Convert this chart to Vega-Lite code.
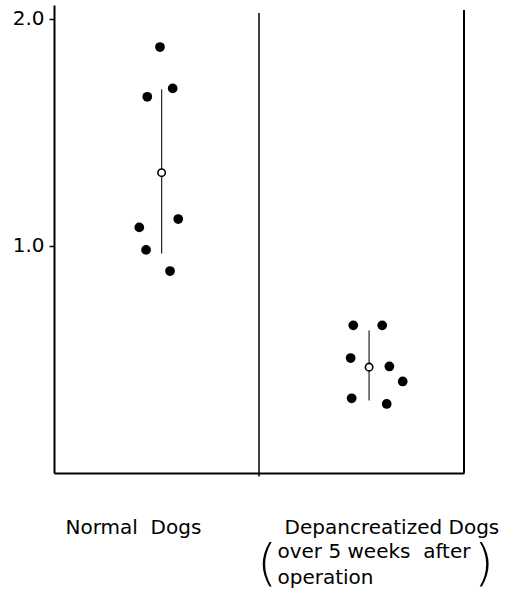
{
  "$schema": "https://vega.github.io/schema/vega-lite/v6.json",
  "width": 410,
  "height": 468,
  "autosize": "none",
  "padding": {"left": 54, "top": 5, "right": 53, "bottom": 121},
  "background": "white",
  "config": {
    "view": {"stroke": null},
    "font": "DejaVu Sans",
    "axis": {"grid": false, "domainColor": "black", "domainWidth": 2, "labelColor": "black", "labelFont": "DejaVu Sans", "labelFontSize": 20, "labelLimit": 400}
  },
  "datasets": {
    "dogs": [
      {"group": "Normal", "pos": 0.517, "value": 1.875},
      {"group": "Normal", "pos": 0.455, "value": 1.656},
      {"group": "Normal", "pos": 0.579, "value": 1.693},
      {"group": "Normal", "pos": 0.606, "value": 1.118},
      {"group": "Normal", "pos": 0.416, "value": 1.081},
      {"group": "Normal", "pos": 0.449, "value": 0.982},
      {"group": "Normal", "pos": 0.566, "value": 0.889},
      {"group": "Depancreatized", "pos": 1.46, "value": 0.65},
      {"group": "Depancreatized", "pos": 1.601, "value": 0.65},
      {"group": "Depancreatized", "pos": 1.447, "value": 0.506},
      {"group": "Depancreatized", "pos": 1.636, "value": 0.469},
      {"group": "Depancreatized", "pos": 1.701, "value": 0.403},
      {"group": "Depancreatized", "pos": 1.452, "value": 0.329},
      {"group": "Depancreatized", "pos": 1.623, "value": 0.304}
    ],
    "summary": [
      {"group": "Normal", "pos": 0.525, "mean": 1.322, "lo": 0.966, "hi": 1.689},
      {"group": "Depancreatized", "pos": 1.537, "mean": 0.466, "lo": 0.319, "hi": 0.627}
    ]
  },
  "layer": [
    {
      "data": {"name": "dogs"},
      "mark": {"type": "point", "shape": "circle", "filled": true, "color": "black", "size": 95, "opacity": 1},
      "encoding": {
        "x": {
          "field": "pos", "type": "quantitative",
          "scale": {"domain": [0, 2], "nice": false, "zero": false},
          "axis": {
            "title": null, "ticks": false, "values": [0.385, 1.646],
            "labelExpr": "datum.value < 1 ? 'Normal\u00a0 Dogs' : 'Depancreatized Dogs'",
            "labelPadding": 44, "labelAlign": "center"
          }
        },
        "y": {
          "field": "value", "type": "quantitative",
          "scale": {"domain": [0, 2.06], "nice": false},
          "axis": {"title": null, "values": [1, 2], "format": ".1f", "tickSize": 5, "tickColor": "black", "tickWidth": 1.5, "labelPadding": 5}
        }
      }
    },
    {
      "data": {"name": "summary"},
      "mark": {"type": "rule", "color": "#333", "strokeWidth": 1.3},
      "encoding": {
        "x": {"field": "pos", "type": "quantitative"},
        "y": {"field": "lo", "type": "quantitative"},
        "y2": {"field": "hi"}
      }
    },
    {
      "data": {"name": "summary"},
      "mark": {"type": "point", "shape": "circle", "filled": true, "fill": "white", "stroke": "black", "strokeWidth": 1.6, "size": 55, "opacity": 1},
      "encoding": {
        "x": {"field": "pos", "type": "quantitative"},
        "y": {"field": "mean", "type": "quantitative"}
      }
    },
    {
      "data": {"values": [{}]},
      "mark": {"type": "rule", "color": "black", "strokeWidth": 1.5, "clip": false},
      "encoding": {
        "x": {"datum": 1},
        "y": {"datum": -0.015},
        "y2": {"datum": 2.025}
      }
    },
    {
      "data": {"values": [{}]},
      "mark": {"type": "rule", "color": "black", "strokeWidth": 2, "clip": false},
      "encoding": {
        "x": {"datum": 2},
        "y": {"datum": 0},
        "y2": {"datum": 2.038}
      }
    },
    {
      "data": {"values": [{}]},
      "mark": {"type": "text", "align": "left", "baseline": "alphabetic", "fontSize": 20, "lineHeight": 26, "color": "black", "clip": false},
      "encoding": {
        "x": {"datum": 1.09},
        "y": {"datum": -0.374},
        "text": {"value": ["over 5 weeks\u00a0 after", "operation"]}
      }
    },
    {
      "data": {"values": [{"p": "(", "at": 1.039}, {"p": ")", "at": 2.098}]},
      "mark": {"type": "text", "align": "center", "baseline": "middle", "fontSize": 50, "fontWeight": 200, "color": "black", "clip": false},
      "encoding": {
        "x": {"field": "at", "type": "quantitative"},
        "y": {"datum": -0.405},
        "text": {"field": "p"}
      }
    }
  ]
}
